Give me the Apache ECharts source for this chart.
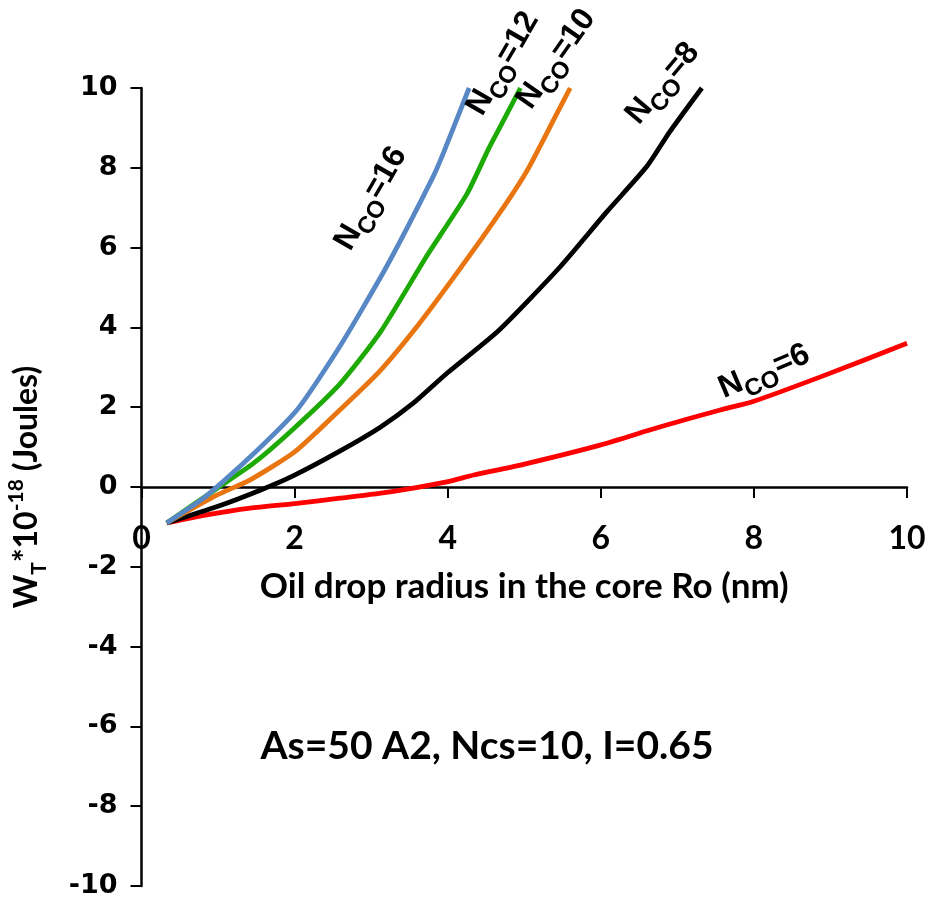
<!DOCTYPE html>
<html>
<head>
<meta charset="utf-8">
<script src="https://cdn.jsdelivr.net/npm/echarts@6/dist/echarts.min.js"></script>
<style>
  html, body { margin: 0; padding: 0; background: #fff; }
  #chart { width: 928px; height: 899px; }
</style>
</head>
<body>
<div id="chart"></div>
<script>
// Total energy W_T versus oil drop core radius Ro, one curve per N_CO value.
// Each series is a list of [Ro (nm), W_T * 1e-18 (J)] pairs.
const nco16 = [[0.33,-0.9],[0.81,-0.28],[1.38,0.68],[2.03,1.93],[2.59,3.52],[3.20,5.52],[3.81,7.78],[3.95,8.4],[4.28,10]];
const nco12 = [[0.33,-0.9],[0.99,-0.03],[1.46,0.59],[1.98,1.45],[2.59,2.58],[3.12,3.88],[3.72,5.77],[4.25,7.34],[4.54,8.5],[4.76,9.3],[4.95,10]];
const nco10 = [[0.33,-0.9],[0.99,-0.2],[1.42,0.18],[2.0,0.88],[2.59,1.93],[3.11,2.9],[3.63,4.1],[4.15,5.44],[4.69,6.9],[5.04,7.94],[5.41,9.3],[5.6,10]];
const nco8  = [[0.33,-0.9],[0.99,-0.49],[1.55,-0.08],[1.98,0.28],[2.59,0.9],[3.12,1.5],[3.55,2.1],[3.99,2.85],[4.67,3.93],[5.47,5.52],[6.08,6.9],[6.60,8.03],[6.9,8.9],[7.32,10]];
const nco6  = [[0.33,-0.9],[0.85,-0.70],[1.42,-0.53],[2.03,-0.41],[2.59,-0.28],[3.25,-0.12],[3.99,0.13],[4.34,0.30],[4.95,0.55],[5.99,1.05],[6.78,1.51],[7.56,1.93],[8.0,2.15],[8.87,2.76],[10.0,3.6]];

const seriesNames = ['NCO=16', 'NCO=12', 'NCO=10', 'NCO=8', 'NCO=6'];
const seriesData = [nco16, nco12, nco10, nco8, nco6];
const seriesColors = ['#5787C4', '#1EAA04', '#E8750F', '#000000', '#FF0000'];

const xTicks = { min: 0, max: 10, step: 2 };
const yTicks = { min: -10, max: 10, step: 2 };

const xTitle = 'Oil drop radius in the core Ro (nm)';
const conditions = 'As=50 A2, Ncs=10, I=0.65';

// Curve labels: N with subscript CO, rotated to follow the curves
const curveLabels = [
  { value: '16', x: 377, y: 202, angle: 60 },
  { value: '12', x: 509, y: 67,  angle: 60 },
  { value: '10', x: 562, y: 63,  angle: 55 },
  { value: '8',  x: 668, y: 88,  angle: 50 },
  { value: '6',  x: 767, y: 378, angle: 23 }
];

const labelRich = {
  n: { fontFamily: 'Liberation Sans', fontWeight: 'bold', fontSize: 32, lineHeight: 32, padding: [0, 0, 7, 0], verticalAlign: 'bottom', fill: '#000' },
  s: { fontFamily: 'Liberation Sans', fontWeight: 'bold', fontSize: 24, lineHeight: 24, verticalAlign: 'bottom', fill: '#000' }
};

const GRID = { left: 141.5, right: 21, top: 88, bottom: 13 };
const plotHeight = 899 - GRID.top - GRID.bottom;
// x axis sits on y = 0, which is the vertical middle of the -10..10 range
const xAxisOffset = -plotHeight * (0 - yTicks.min) / (yTicks.max - yTicks.min);

const chart = echarts.init(document.getElementById('chart'), null, { renderer: 'canvas' });

const option = {
  animation: false,
  backgroundColor: '#fff',
  grid: Object.assign({ outerBoundsMode: 'none', containLabel: false }, GRID),
  xAxis: {
    type: 'value',
    position: 'bottom',
    offset: xAxisOffset,
    min: xTicks.min, max: xTicks.max, interval: xTicks.step,
    axisLine: { onZero: false, lineStyle: { color: '#000', width: 2.5 } },
    axisTick: { show: true, length: 11, lineStyle: { color: '#000', width: 2 } },
    axisLabel: { margin: 36, color: '#000', fontFamily: 'Lato', fontWeight: 'bold', fontSize: 32 },
    splitLine: { show: false },
    name: xTitle,
    nameLocation: 'middle',
    nameGap: 82,
    nameTextStyle: { color: '#000', fontFamily: 'Lato', fontWeight: 'bold', fontSize: 35 }
  },
  yAxis: {
    type: 'value',
    position: 'left',
    min: yTicks.min, max: yTicks.max, interval: yTicks.step,
    axisLine: { onZero: false, lineStyle: { color: '#000', width: 2.5 } },
    axisTick: { show: true, length: 11, lineStyle: { color: '#000', width: 2 } },
    axisLabel: { margin: 24, color: '#000', fontFamily: 'DejaVu Sans', fontWeight: 'bold', fontSize: 27 },
    splitLine: { show: false },
    name: '{m|W}{sub|T}{m|*10}{sup|-18}{m| (Joules)}',
    nameLocation: 'middle',
    nameGap: 92,
    nameRotate: 90,
    nameTextStyle: {
      color: '#000',
      rich: {
        m:   { fontFamily: 'Lato', fontWeight: 'bold', fontSize: 32, lineHeight: 32, padding: [0, 0, 7, 0], verticalAlign: 'bottom', color: '#000' },
        sub: { fontFamily: 'Lato', fontWeight: 'bold', fontSize: 21, lineHeight: 21, verticalAlign: 'bottom', color: '#000' },
        sup: { fontFamily: 'Lato', fontWeight: 'bold', fontSize: 21, lineHeight: 21, padding: [0, 0, 23, 0], verticalAlign: 'bottom', color: '#000' }
      }
    }
  },
  series: seriesData.map((d, i) => ({
    name: seriesNames[i],
    type: 'line',
    data: d,
    showSymbol: false,
    smooth: 0.2,
    lineStyle: { color: seriesColors[i], width: 4.8 },
    itemStyle: { color: seriesColors[i] },
    z: 10 - i
  })),
  graphic: [
    {
      type: 'text',
      x: 487, y: 746,
      style: {
        text: conditions,
        align: 'center', verticalAlign: 'middle',
        font: 'bold 39px Lato',
        fill: '#000'
      }
    }
  ].concat(curveLabels.map(l => ({
    type: 'text',
    x: l.x, y: l.y,
    rotation: l.angle * Math.PI / 180,
    style: {
      text: '{n|N}{s|CO}{n|=' + l.value + '}',
      rich: labelRich,
      align: 'center',
      verticalAlign: 'middle'
    },
    z: 100
  })))
};

chart.setOption(option);
</script>
</body>
</html>
